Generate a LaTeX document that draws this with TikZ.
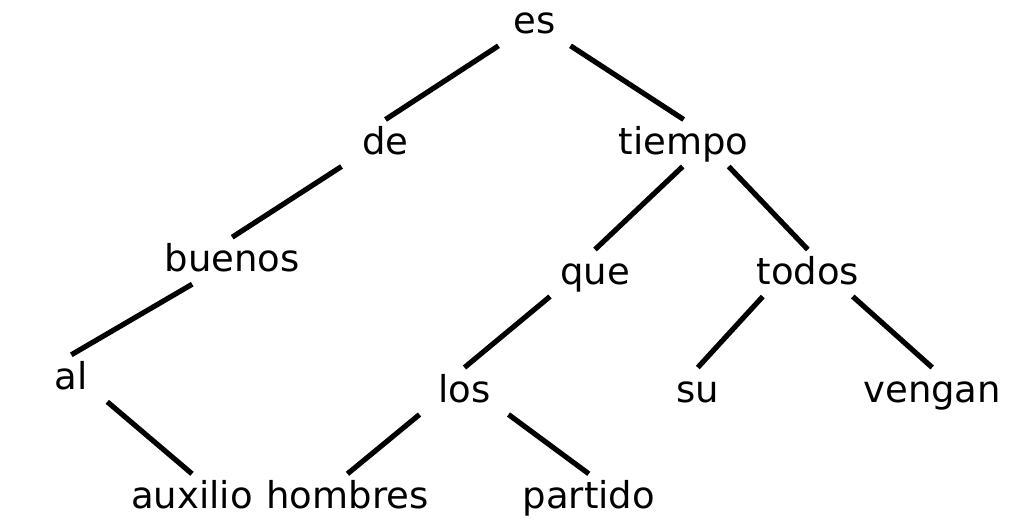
\documentclass[tikz,border=0pt]{standalone}
\usepackage{fontspec}
\setmainfont{DejaVu Sans}
\begin{document}
\begin{tikzpicture}[x=0.5pt,y=-0.5pt,
  every node/.style={anchor=base,inner sep=0pt,font=\fontsize{18.5}{22}\selectfont},
  every path/.style={line width=2.6pt}]
\pgfmathsetmacro{\dn}{12.5}
\pgfmathsetmacro{\up}{-34.5}
\useasboundingbox (0,0) rectangle (1024,521);
% words
\node(es) at (534.5,33.3){es};
\node(de) at (385.5,154){de};
\node(tiempo) at (683.7,154){tiempo};
\node(buenos) at (232.2,271.7){buenos};
\node(que) at (595,284){que};
\node(todos) at (807.8,284){todos};
\node(al) at (71.3,389.3){al};
\node(los) at (464.5,402){los};
\node(su) at (697.8,402){su};
\node(vengan) at (932.2,402){vengan};
\node(auxilio) at (192,508.3){auxilio};
\node(hombres) at (347.5,508.3){hombres};
\node(partido) at (588.8,508.3){partido};
% links
\draw([shift={(-36,\dn)}]es.base)--([shift={(0,\up)}]de.base);
\draw([shift={(36,\dn)}]es.base)--([shift={(0,\up)}]tiempo.base);
\draw([shift={(-44,\dn)}]de.base)--([shift={(0,\up)}]buenos.base);
\draw([shift={(-1,\dn)}]tiempo.base)--([shift={(0,\up)}]que.base);
\draw([shift={(45,\dn)}]tiempo.base)--([shift={(0,\up)}]todos.base);
\draw([shift={(-40,\dn)}]buenos.base)--([shift={(0,\up)}]al.base);
\draw([shift={(-45,\dn)}]que.base)--([shift={(0,\up)}]los.base);
\draw([shift={(-45,\dn)}]todos.base)--([shift={(0,\up)}]su.base);
\draw([shift={(45,\dn)}]todos.base)--([shift={(0,\up)}]vengan.base);
\draw([shift={(36,\dn)}]al.base)--([shift={(0,\up)}]auxilio.base);
\draw([shift={(-45,\dn)}]los.base)--([shift={(0,\up)}]hombres.base);
\draw([shift={(44,\dn)}]los.base)--([shift={(0,\up)}]partido.base);
\end{tikzpicture}
\end{document}
